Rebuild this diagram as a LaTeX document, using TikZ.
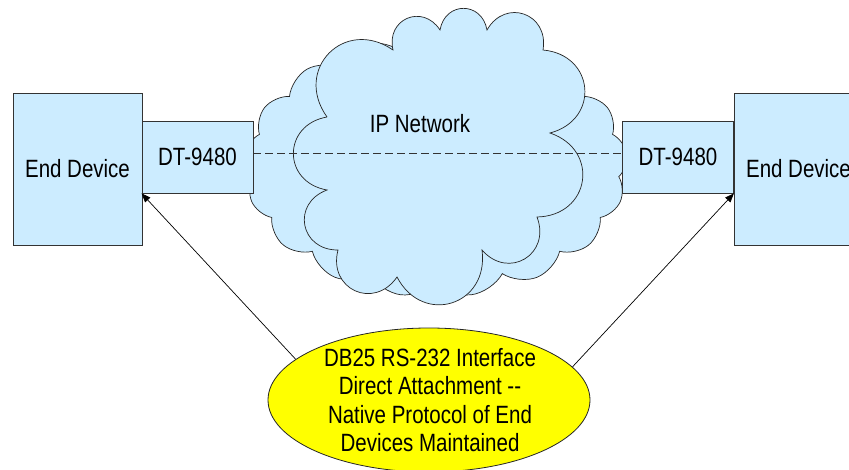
\documentclass[tikz,border=0pt]{standalone}
\usepackage{fontspec}
\setmainfont{Liberation Sans}[FakeStretch=0.82]
\usetikzlibrary{shapes.geometric,shapes.symbols,arrows.meta}
\definecolor{boxblue}{HTML}{CCECFF}
\definecolor{noteyellow}{HTML}{FFFF00}
\begin{document}
\begin{tikzpicture}[
    x=1pt,
    y=-1pt,
    box/.style={
        draw=black!80,
        line width=0.8pt,
        fill=boxblue,
        inner sep=0pt,
        align=center,
        font=\fontsize{25}{28}\selectfont
    },
    device/.style={
        box,
        minimum width=129pt,
        minimum height=152pt
    },
    adapter/.style={
        box,
        minimum width=111pt,
        minimum height=72pt
    },
    puff/.style={
        draw=black!85,
        line width=0.7pt,
        fill=boxblue
    },
    backpuff/.style={
        puff,
        cloud,
        inner sep=0pt
    },
    lobe/.style={
        bend left=80,
        looseness=1.6
    },
    note/.style={
        ellipse,
        draw=black!85,
        line width=0.8pt,
        fill=noteyellow,
        minimum width=322pt,
        minimum height=144pt,
        inner sep=0pt
    },
    pointer/.style={
        draw=black,
        line width=0.7pt,
        -{Triangle[length=9pt,width=7pt]}
    }
]
\clip (0,0) rectangle (849,470);

% =====================
% Nube IP
% =====================
\node[backpuff, cloud puffs=17, cloud puff arc=110,
      minimum width=383pt, minimum height=262pt] (backcloud) at (436,166) {};
\draw[puff] (327,117) to[lobe] (393,50) to[lobe] (440,30)
    to[lobe] (487,30) to[lobe] (543,50)
    to[lobe] (550,133) to[lobe] (537,217)
    to[lobe] (482,250) to[lobe] (397,277)
    to[lobe] (338,250) to[lobe] (327,190)
    to[lobe] (327,117);
\node[font=\fontsize{25}{28}\selectfont] (ipnet) at (420,124) {IP Network};

% =====================
% Equipos
% =====================
\node[device]  (devl) at (77.5,169) {End Device};
\node[adapter] (dtl)  at (197.5,157) {DT-9480};
\node[adapter] (dtr)  at (678,157) {DT-9480};
\node[device]  (devr) at (798.5,169) {End Device};

\draw[black!80, line width=0.7pt, dash pattern=on 8pt off 4pt]
    ([yshift=4pt]dtl.east) -- ([yshift=4pt]dtr.west);

% =====================
% Nota
% =====================
\node[note] (note) at (429,400) {};
\node[align=center, font=\fontsize{25}{28.5}\selectfont] (notetext) at (430,400)
    {DB25 RS-232 Interface\\Direct Attachment -{}-\\Native Protocol of End\\Devices Maintained};

\draw[pointer] (note.163) -- (dtl.south west);
\draw[pointer] (note.13) -- (dtr.south east);

\end{tikzpicture}
\end{document}
